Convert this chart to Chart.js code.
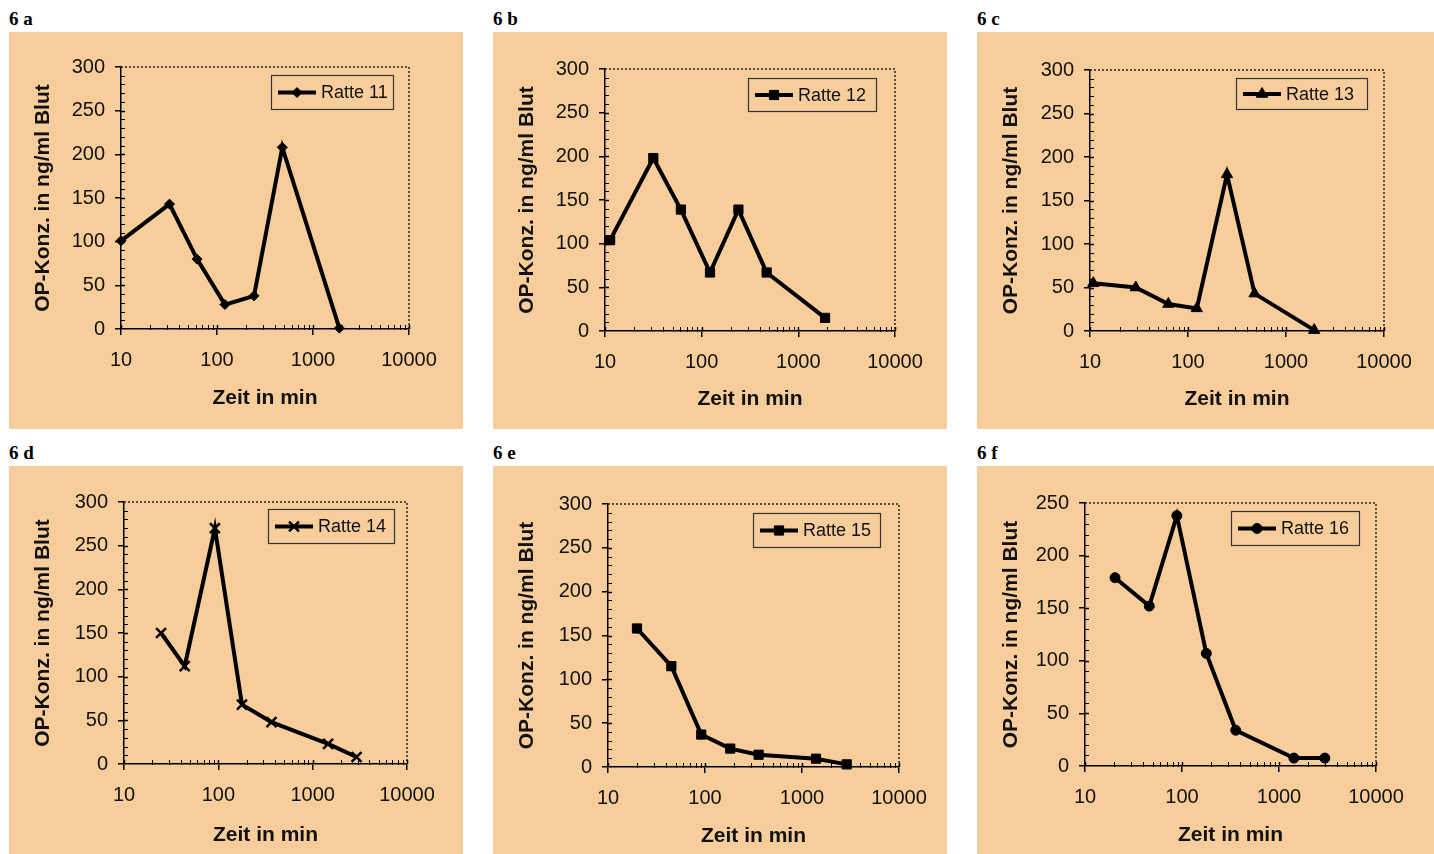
<!DOCTYPE html>
<html><head><meta charset="utf-8">
<script src="https://cdn.jsdelivr.net/npm/chart.js@4.4.1/dist/chart.umd.min.js"></script>
<style>
html,body{margin:0;padding:0;background:#fff;width:1434px;height:854px;overflow:hidden;position:relative}
.lbl{position:absolute;font-family:'Liberation Serif','Times New Roman',serif;font-weight:bold;font-size:19px;color:#000;line-height:1;white-space:pre}
.pan{position:absolute;background:#F7CE9B}
.pan canvas{display:block}
</style></head><body>
<script>
// ---- data ----
const timeA=[10,32,62,121,243,479,1880];
const concA=[101,143,80,28,38,208,1];
const timeB=[11.3,31.6,61,122,240,470,1890];
const concB=[104,198,139,67,139,67,15];
const timeC=[10.8,29.3,63,123,250,478,1940];
const concC=[55,50,31,26,180,43,1];
const timeD=[24.7,44,92,178,366,1457,2920];
const concD=[150,112,270,68,48,23,8];
const timeE=[19.9,45,91.5,182,357,1395,2890];
const concE=[158,115,37,21,14,9.5,3];
const timeF=[20.4,46,88.5,178,358,1424,2966];
const concF=[179,152,238,107,34,7.5,7.5];
const xTickValues=[10,100,1000,10000];
const panelLabels=['6 a','6 b','6 c','6 d','6 e','6 f'];
const seriesNames=['Ratte 11','Ratte 12','Ratte 13','Ratte 14','Ratte 15','Ratte 16'];
const yMaxes=[300,300,300,300,300,250];
const yTitle='OP-Konz. in ng/ml Blut';
const xTitle='Zeit in min';

// ---- layout / styles ----
const FONT="'Liberation Sans', Arial, sans-serif";
const panels=[
 {x:timeA,y:concA,style:'rectRot',r:5,pbw:1,box:[9,32,454,397],plot:[121,409,67,329],leg:[271,75,122,34],lab:[9,9],tb:18},
 {x:timeB,y:concB,style:'rect',r:6.5,pbw:1,box:[493,32,454,397],plot:[605,895,69,331],leg:[748,78,128,33],lab:[493,9],tb:17},
 {x:timeC,y:concC,style:'triangle',r:6.5,pbw:1,box:[977,32,457,397],plot:[1090,1384,70,331],leg:[1236,78,131,31],lab:[977,9],tb:17},
 {x:timeD,y:concD,style:'crossRot',r:7,pbw:2.5,box:[9,466,454,388],plot:[124,407,502,764],leg:[268,509,126,34],lab:[9,443],tb:6},
 {x:timeE,y:concE,style:'rect',r:6.5,pbw:1,box:[493,466,454,388],plot:[608,899,504,767],leg:[753,513,127,34],lab:[493,443],tb:5},
 {x:timeF,y:concF,style:'circle',r:5,pbw:1,box:[977,466,457,388],plot:[1085,1376,503,766],leg:[1231,511,128,34],lab:[977,443],tb:6}
];

function drawMarker(ctx,style,x,y,r,lw){
  ctx.save();ctx.fillStyle='#000';ctx.strokeStyle='#000';ctx.lineWidth=lw;
  ctx.beginPath();
  if(style==='rectRot'){ctx.moveTo(x,y-r);ctx.lineTo(x+r,y);ctx.lineTo(x,y+r);ctx.lineTo(x-r,y);ctx.closePath();ctx.fill();ctx.stroke();}
  else if(style==='rect'){const s=Math.SQRT1_2*r;ctx.rect(x-s,y-s,2*s,2*s);ctx.fill();ctx.stroke();}
  else if(style==='triangle'){for(let i=0;i<3;i++){const a=i*2*Math.PI/3;const px=x+Math.sin(a)*r,py=y-Math.cos(a)*r;i?ctx.lineTo(px,py):ctx.moveTo(px,py);}ctx.closePath();ctx.fill();ctx.stroke();}
  else if(style==='crossRot'){const s=Math.SQRT1_2*r;ctx.moveTo(x-s,y-s);ctx.lineTo(x+s,y+s);ctx.moveTo(x+s,y-s);ctx.lineTo(x-s,y+s);ctx.stroke();}
  else {ctx.arc(x,y,r,0,Math.PI*2);ctx.fill();ctx.stroke();}
  ctx.restore();
}

const decoPlugin={id:'deco',afterDraw(chart,args,o){
  const ctx=chart.ctx,a=chart.chartArea,xs=chart.scales.x,ys=chart.scales.y;
  ctx.save();
  // dotted top/right border
  ctx.strokeStyle='#222';ctx.lineWidth=1.5;ctx.setLineDash([2,2]);
  ctx.beginPath();ctx.moveTo(a.left,a.top);ctx.lineTo(a.right,a.top);ctx.lineTo(a.right,a.bottom);ctx.stroke();
  ctx.setLineDash([]);
  // minor ticks + inward part of major ticks
  ctx.lineWidth=1;ctx.strokeStyle='#000';ctx.beginPath();
  for(let v=10;v<o.yMax;v+=10){if(v%50===0)continue;const py=Math.round(ys.getPixelForValue(v))+0.5;ctx.moveTo(a.left-1,py);ctx.lineTo(a.left+4,py);}
  for(let d=10;d<10000;d*=10){for(let k=2;k<=9;k++){const px=Math.round(xs.getPixelForValue(d*k))+0.5;ctx.moveTo(px,a.bottom+1);ctx.lineTo(px,a.bottom-4);}}
  ctx.stroke();
  ctx.lineWidth=1.5;ctx.beginPath();
  for(let v=50;v<o.yMax;v+=50){const py=Math.round(ys.getPixelForValue(v))+0.5;ctx.moveTo(a.left,py);ctx.lineTo(a.left+4,py);}
  xTickValues.forEach(v=>{const px=Math.round(xs.getPixelForValue(v))+0.5;ctx.moveTo(px,a.bottom);ctx.lineTo(px,a.bottom-4);});
  ctx.stroke();
  // legend box
  const L=o.leg;const bx=L[0]-o.box[0],by=L[1]-o.box[1],bw=L[2],bh=L[3];
  ctx.strokeStyle='#333';ctx.lineWidth=1.2;ctx.strokeRect(bx+0.5,by+0.5,bw,bh);
  const cy=by+bh/2+0.5;
  ctx.strokeStyle='#000';ctx.lineWidth=4;ctx.beginPath();ctx.moveTo(bx+7,cy);ctx.lineTo(bx+45,cy);ctx.stroke();
  drawMarker(ctx,o.style,bx+26,cy,o.r,o.pbw);
  ctx.fillStyle='#111';ctx.font='18px '+FONT;ctx.textBaseline='middle';ctx.textAlign='left';
  ctx.fillText(chart.data.datasets[0].label,bx+50,cy+1);
  ctx.restore();
}};

panels.forEach((p,i)=>{
  const lab=document.createElement('div');lab.className='lbl';lab.textContent=panelLabels[i];
  lab.style.left=p.lab[0]+'px';lab.style.top=p.lab[1]+'px';document.body.appendChild(lab);
  const [bl,bt,bw,bh]=p.box;const [pl,pr,pt,pb]=p.plot;
  const div=document.createElement('div');div.className='pan';
  Object.assign(div.style,{left:bl+'px',top:bt+'px',width:bw+'px',height:bh+'px'});
  const cv=document.createElement('canvas');cv.width=bw;cv.height=bh;cv.style.width=bw+'px';cv.style.height=bh+'px';
  div.appendChild(cv);document.body.appendChild(div);
  const Lw=pl-bl,Rp=bl+bw-pr,Tp=pt-bt,Bh=bt+bh-pb;
  new Chart(cv,{type:'line',
    data:{datasets:[{label:seriesNames[i],data:p.x.map((v,j)=>({x:v,y:p.y[j]})),
      borderColor:'#000',backgroundColor:'#000',borderWidth:4,tension:0,clip:false,
      pointStyle:p.style,pointRadius:p.r,pointHoverRadius:p.r,pointBorderWidth:p.pbw,
      pointBackgroundColor:'#000',pointBorderColor:'#000'}]},
    options:{responsive:false,animation:false,devicePixelRatio:1,
      layout:{padding:{left:0,top:Tp,right:Rp,bottom:0}},
      plugins:{legend:{display:false},tooltip:{enabled:false},
        deco:{leg:p.leg,box:p.box,style:p.style,r:p.r,pbw:p.pbw,yMax:yMaxes[i]}},
      scales:{
        x:{type:'logarithmic',min:10,max:10000,
          afterBuildTicks:s=>{s.ticks=xTickValues.map(v=>({value:v}));},
          afterFit:s=>{s.height=Bh;},
          grid:{drawOnChartArea:false,drawTicks:true,tickLength:6,color:'#000',lineWidth:1.5},
          border:{display:true,color:'#000',width:1.5},
          ticks:{callback:v=>String(v),color:'#111',font:{family:FONT,size:20},padding:13,maxRotation:0,autoSkip:false},
          title:{display:true,text:xTitle,color:'#111',font:{family:FONT,size:21,weight:'bold'},padding:{top:0,bottom:p.tb}}},
        y:{min:0,max:yMaxes[i],
          afterFit:s=>{s.width=Lw;},
          grid:{drawOnChartArea:false,drawTicks:true,tickLength:6,color:'#000',lineWidth:1.5},
          border:{display:true,color:'#000',width:1.5},
          ticks:{stepSize:50,color:'#111',font:{family:FONT,size:20},padding:10},
          title:{display:true,text:yTitle,color:'#111',font:{family:FONT,size:21,weight:'bold'},padding:{top:22,bottom:0}}}
      }},
    plugins:[decoPlugin]});
});
</script>
</body></html>
